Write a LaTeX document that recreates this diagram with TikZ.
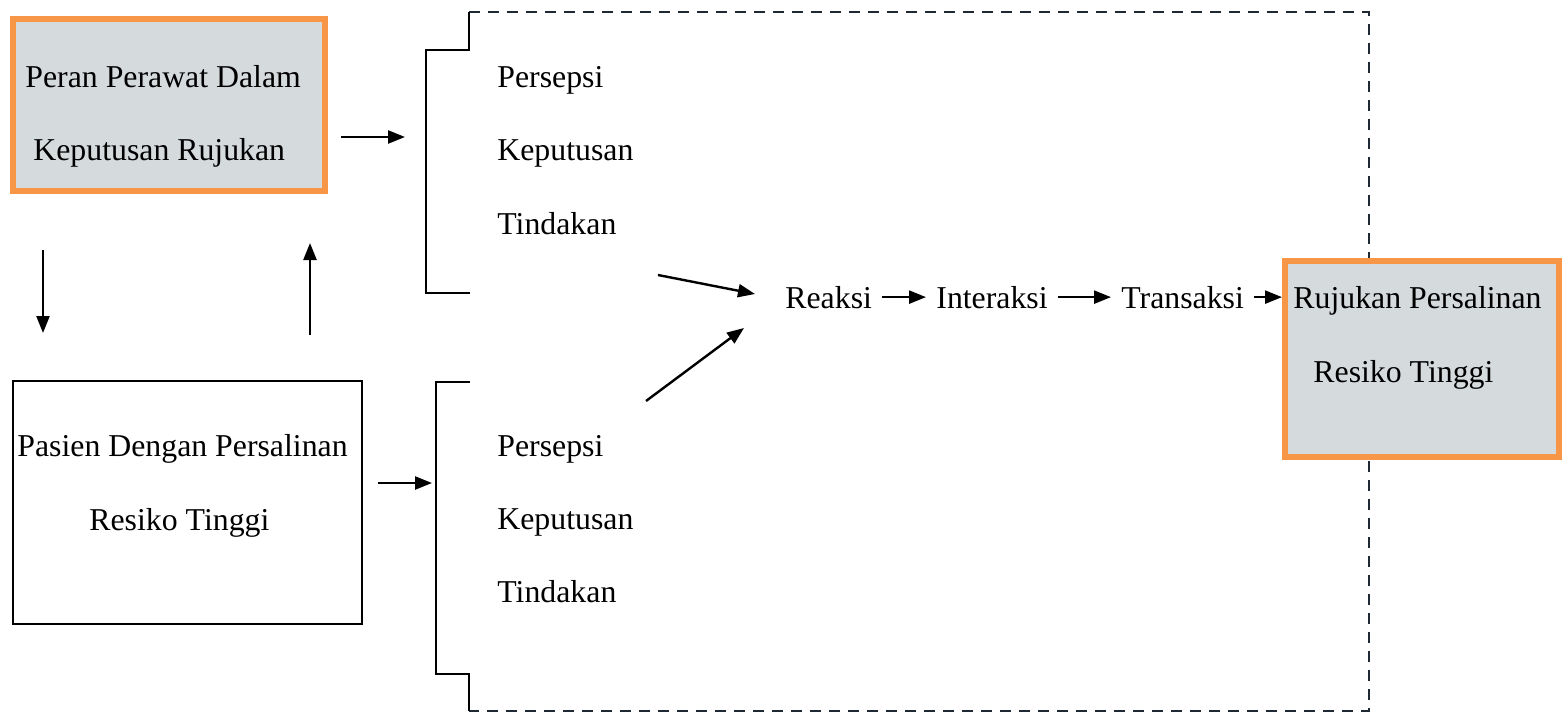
\documentclass[tikz,border=0pt]{standalone}
\usepackage{fontspec}
\setmainfont{Liberation Serif}
\usetikzlibrary{arrows.meta,positioning}
\definecolor{boxorange}{HTML}{F79646}
\definecolor{boxgrey}{HTML}{D5DADD}
\definecolor{dashgrey}{HTML}{1F2933}

\begin{document}
\begin{tikzpicture}[x=0.5pt,y=-0.5pt,
  font=\fontsize{15.9}{19}\selectfont,>={Triangle[length=8.5pt,width=6.5pt]},
  ob/.style={draw=boxorange,line width=3pt,fill=boxgrey,inner sep=0pt,
             minimum width=156pt,minimum height=86pt},
  pb/.style={draw=black,line width=1pt,inner sep=0pt,
             minimum width=174.5pt,minimum height=121.5pt},
  tx/.style={anchor=base west,inner sep=0pt},
  st/.style={anchor=base west,inner xsep=5pt,inner ysep=2pt},
  ar/.style={->,line width=1.2pt},
  br/.style={line width=1.2pt},
  dl/.style={dashgrey,line width=1.3pt,dash pattern=on 5.5pt off 4pt},
]
\useasboundingbox (0,0) rectangle (1562,717);

% dashed frame and the two brackets
\draw[dl] (469,12) -- (1369,12) -- (1369,711) -- (469,711);
\draw[br] (469,12) -- (469,50) -- (426,50) -- (426,293) -- (470,293);
\draw[br] (470,382) -- (436,382) -- (436,674) -- (469,674) -- (469,711);

% boxes
\node[ob] (peran) at (169,105) {};
\node[pb] (pasien) at (187.5,502.5) {};
\node[ob,minimum width=137pt,minimum height=98pt] (rujukan) at (1422,359) {};

% box texts
\node[tx] (peranA) at (25,88)   {Peran Perawat Dalam};
\node[tx] (peranB) at (33,161)  {Keputusan Rujukan};
\node[tx] (pasienA) at (17,456) {Pasien Dengan Persalinan};
\node[tx] (pasienB) at (89,530) {Resiko Tinggi};
\node[tx] (rujukanA) at (1293,308) {Rujukan Persalinan};
\node[tx] (rujukanB) at (1313,382) {Resiko Tinggi};

% perawat column
\node[tx] (persepsiA) at (497,88)   {Persepsi};
\node[tx] (keputusanA) at (497,161) {Keputusan};
\node[tx] (tindakanA) at (497,234)  {Tindakan};
% pasien column
\node[tx] (persepsiB) at (497,456)  {Persepsi};
\node[tx] (keputusanB) at (497,529) {Keputusan};
\node[tx] (tindakanB) at (497,602)  {Tindakan};

% chain
\node[st] (reaksi) at (775,308)     {Reaksi};
\node[st] (interaksi) at (926,308)  {Interaksi};
\node[st] (transaksi) at (1111,308) {Transaksi};

% free arrow ends
\coordinate (a1) at (341,137); \coordinate (a2) at (405,137);
\coordinate (b1) at (378,483); \coordinate (b2) at (432,483);
\coordinate (d1) at (43,250);  \coordinate (d2) at (43,333);
\coordinate (u1) at (310,335); \coordinate (u2) at (310,243);
\coordinate (r1) at (658,275); \coordinate (r2) at (755,294);
\coordinate (r3) at (646,401); \coordinate (r4) at (744,328);

\draw[ar] (a1) -- (a2);
\draw[ar] (b1) -- (b2);
\draw[ar] (d1) -- (d2);
\draw[ar] (u1) -- (u2);
\draw[ar] (r1) -- (r2);
\draw[ar] (r3) -- (r4);
\draw[ar] (reaksi) -- (interaksi);
\draw[ar] (interaksi) -- (transaksi);
\draw[ar] (transaksi.east) -- (transaksi.east -| rujukan.west);
\end{tikzpicture}
\end{document}
